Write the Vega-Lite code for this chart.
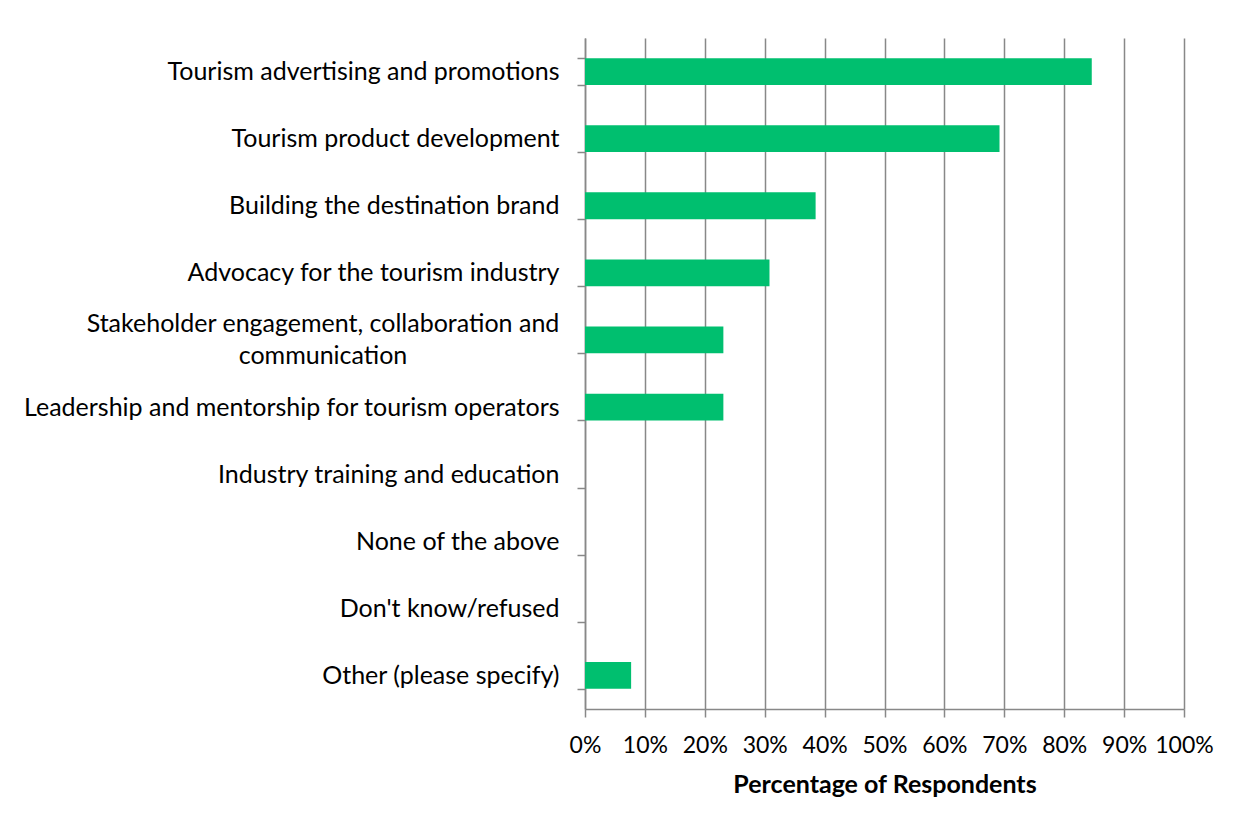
{
  "$schema": "https://vega.github.io/schema/vega-lite/v6.json",
  "autosize": {"type": "none"},
  "width": 599,
  "height": 671,
  "padding": {"left": 585, "top": 38, "right": 60, "bottom": 118},
  "background": "white",
  "config": {"view": {"stroke": null}, "font": "Lato"},
  "data": {
    "values": [
      {"activity": "Tourism advertising and promotions", "pct": 0.846},
      {"activity": "Tourism product development", "pct": 0.692},
      {"activity": "Building the destination brand", "pct": 0.385},
      {"activity": "Advocacy for the tourism industry", "pct": 0.308},
      {"activity": "Stakeholder engagement, collaboration and communication", "pct": 0.231},
      {"activity": "Leadership and mentorship for tourism operators", "pct": 0.231},
      {"activity": "Industry training and education", "pct": 0},
      {"activity": "None of the above", "pct": 0},
      {"activity": "Don't know/refused", "pct": 0},
      {"activity": "Other (please specify)", "pct": 0.077}
    ]
  },
  "encoding": {
    "y": {
      "field": "activity",
      "type": "nominal",
      "sort": null,
      "scale": {"paddingInner": 0.6, "paddingOuter": 0.3},
      "axis": {
        "title": null,
        "domainColor": "#888888",
        "domainWidth": 1.5,
        "tickColor": "#888888",
        "tickWidth": 1.5,
        "tickSize": 8,
        "tickBand": "extent",
        "labelFont": "Lato",
        "labelFontSize": 25,
        "labelColor": "#000000",
        "labelLimit": 0,
        "labelPadding": 18,
        "labelExpr": "datum.value == 'Stakeholder engagement, collaboration and communication' ? '' : datum.value"
      }
    }
  },
  "layer": [
    {
      "mark": {"type": "bar", "color": "#00BF6F"},
      "encoding": {
        "x": {
          "field": "pct",
          "type": "quantitative",
          "scale": {"domain": [0, 1], "nice": false},
          "axis": {
            "title": "Percentage of Respondents",
            "format": ".0%",
            "values": [0, 0.1, 0.2, 0.3, 0.4, 0.5, 0.6, 0.7, 0.8, 0.9, 1],
            "grid": true,
            "gridColor": "#888888",
            "gridWidth": 1.5,
            "domainColor": "#888888",
            "domainWidth": 1.5,
            "tickColor": "#888888",
            "tickWidth": 1.5,
            "tickSize": 8,
            "labelFont": "Lato",
            "labelFontSize": 23,
            "labelColor": "#000000",
            "labelPadding": 17,
            "labelFlush": false,
            "labelOverlap": false,
            "titleFont": "Lato",
            "titleFontSize": 25,
            "titleFontWeight": "bold",
            "titleColor": "#000000",
            "titlePadding": 15
          }
        }
      }
    },
    {
      "transform": [{"filter": "datum.activity == 'Stakeholder engagement, collaboration and communication'"}],
      "mark": {
        "type": "text",
        "align": "center",
        "baseline": "middle",
        "dx": -262,
        "dy": -16,
        "font": "Lato",
        "fontSize": 25,
        "color": "#000000",
        "lineHeight": 32
      },
      "encoding": {
        "x": {"datum": 0, "type": "quantitative"},
        "text": {"value": ["Stakeholder engagement, collaboration and", "communication"]}
      }
    }
  ]
}
